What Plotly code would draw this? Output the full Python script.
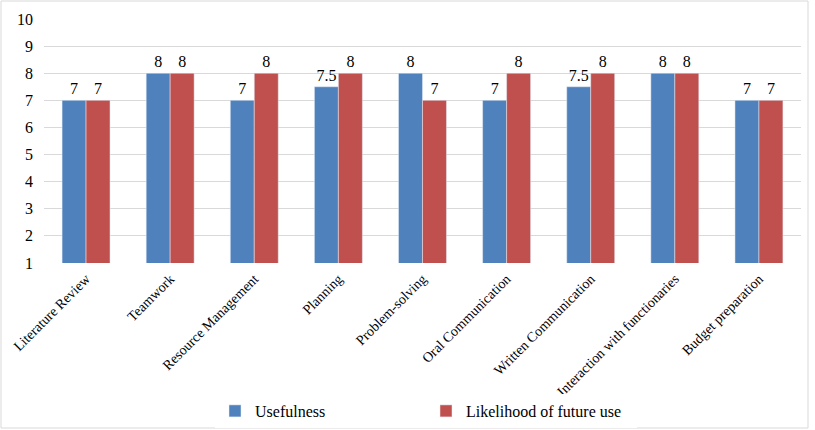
import plotly.graph_objects as go

categories = ["Literature Review", "Teamwork", "Resource Management", "Planning",
              "Problem-solving", "Oral Communication", "Written Communication",
              "Interaction with functionaries", "Budget preparation"]
usefulness = [7, 8, 7, 7.5, 8, 7, 7.5, 8, 7]
likelihood = [7, 8, 8, 8, 7, 8, 8, 8, 7]
y_ticks = [1, 2, 3, 4, 5, 6, 7, 8, 9, 10]

FONT = "Liberation Serif"

fig = go.Figure()
fig.add_trace(go.Bar(x=categories, y=usefulness, name="Usefulness",
                     marker_color="#4F81BD", text=[f"{v:g}" for v in usefulness],
                     textposition="outside", cliponaxis=False,
                     textfont=dict(family=FONT, size=16, color="black")))
fig.add_trace(go.Bar(x=categories, y=likelihood, name="Likelihood of future use",
                     marker_color="#C0504D", text=[f"{v:g}" for v in likelihood],
                     textposition="outside", cliponaxis=False,
                     textfont=dict(family=FONT, size=16, color="black")))

L, R, T, B = 44, 14, 19, 167
W, H = 815, 430
pw, ph = W - L - R, H - T - B

fig.update_layout(
    width=W, height=H,
    margin=dict(l=L, r=R, t=T, b=B),
    barmode="group", bargap=0.43, bargroupgap=0,
    plot_bgcolor="white", paper_bgcolor="white",
    font=dict(family=FONT, size=14, color="black"),
    showlegend=True,
    legend=dict(orientation="h", xref="container", yref="container",
                x=215 / W, y=1 - 411 / H, xanchor="left", yanchor="middle",
                entrywidth=166, entrywidthmode="pixels",
                font=dict(family=FONT, size=16, color="black"),
                itemwidth=30),
    xaxis=dict(tickangle=-45, showline=False, ticks="", showgrid=False,
               automargin=False, ticklabelstandoff=4,
               tickfont=dict(family=FONT, size=14, color="black")),
    yaxis=dict(range=[1, 10], tickvals=y_ticks, showgrid=True, automargin=False,
               gridcolor="#d9d9d9", gridwidth=1, zeroline=False, showline=False,
               ticks="", ticklabelstandoff=10,
               tickfont=dict(family=FONT, size=16, color="black")),
)

# outer chart border
fig.add_shape(type="rect", xref="paper", yref="paper",
              x0=(1 - L) / pw, x1=(808 - L) / pw,
              y0=(T + ph - 428) / ph, y1=(T + ph - 1) / ph,
              line=dict(color="#d9d9d9", width=1), fillcolor="rgba(0,0,0,0)",
              layer="below")

fig.write_html("out.html")
